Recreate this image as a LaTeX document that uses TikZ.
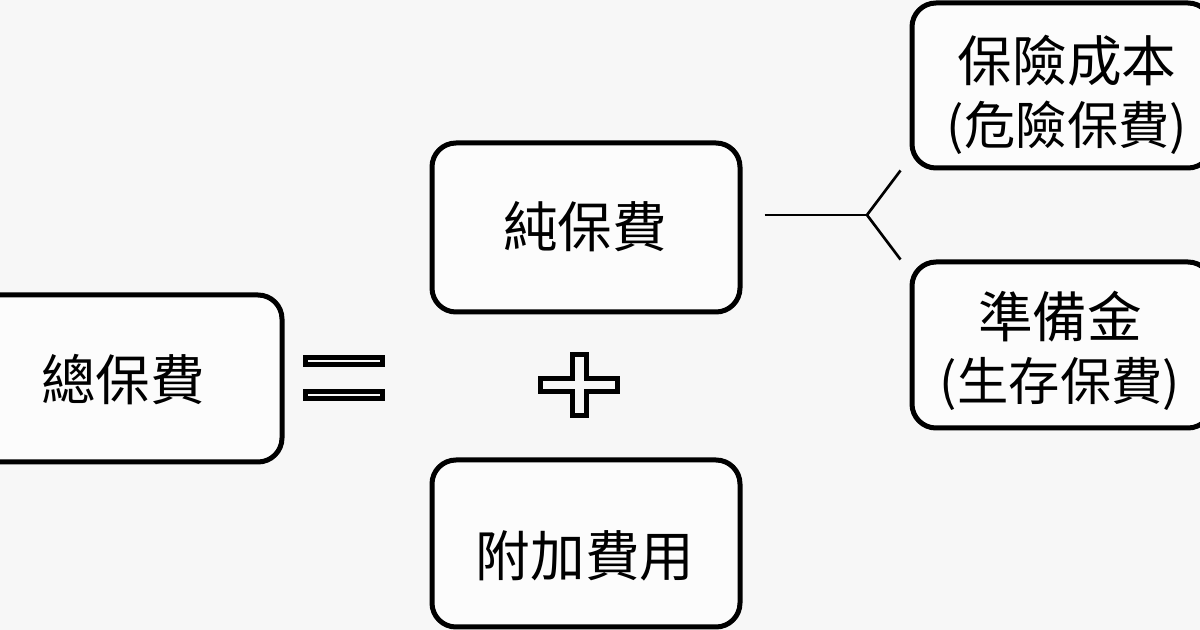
\documentclass[tikz,border=0pt]{standalone}
\usepackage{fontspec}
\newfontfamily\cjk{Noto Sans CJK TC}
\usetikzlibrary{calc}
\definecolor{bgc}{RGB}{247,247,247}
\newcommand{\subline}[1]{{\fontsize{38.5pt}{44pt}\selectfont #1}}
\begin{document}
\begin{tikzpicture}[x=0.75pt,y=-0.75pt,
  box/.style={draw=black,line width=3.75pt,rounded corners=18pt,fill=white!60!bgc,inner sep=0pt},
  txt/.style={font=\cjk\fontsize{41pt}{48pt}\selectfont,inner sep=0pt,align=center},
  sym/.style={draw=black,line width=3.4pt,fill=bgc},
  fork/.style={draw=black,line width=2pt}]
\fill[bgc] (0,0) rectangle (1200,630);
\useasboundingbox (0,0) rectangle (1200,630);
\clip (0,0) rectangle (1200,630);
% boxes
\node[box,minimum width=312*0.75pt,minimum height=167*0.75pt] (total) at (126,378.5) {};
\node[box,minimum width=308*0.75pt,minimum height=169*0.75pt] (pure) at (586,227.5) {};
\node[box,minimum width=308*0.75pt,minimum height=167*0.75pt] (extra) at (586,543.5) {};
\node[box,minimum width=300*0.75pt,minimum height=165*0.75pt] (cost) at (1062,85.5) {};
\node[box,minimum width=300*0.75pt,minimum height=166*0.75pt] (reserve) at (1062,345) {};
% texts
\node[txt] (totalT) at (123,380) {總保費};
\node[txt] (pureT) at (585,227) {純保費};
\node[txt] (extraT) at (585,556) {附加費用};
\node[txt] (costT) at (1067,95) {保險成本\\[-1pt]\subline{(危險保費)}};
\node[txt] (reserveT) at (1060,351) {準備金\\[-1pt]\subline{(生存保費)}};
% equals sign
\path[sym] (305.25,357.25) rectangle (382.75,364.75);
\path[sym] (305.25,391.25) rectangle (382.75,398.75);
% plus sign
\path[sym] (572.25,354.25) -- (586.75,354.25) -- (586.75,378.25) -- (617.75,378.25)
  -- (617.75,391.75) -- (586.75,391.75) -- (586.75,415.75) -- (572.25,415.75)
  -- (572.25,391.75) -- (540.25,391.75) -- (540.25,378.25) -- (572.25,378.25) -- cycle;
% fork connector
\coordinate (fs) at ($(pure.east)+(22,-12.5)$);
\coordinate (fj) at (867,215);
\draw[fork] (fs) -- (fj);
\draw[fork] (fj) -- ($(cost.south west)+(-9,0)$);
\draw[fork] (fj) -- ($(reserve.north west)+(-9,0)$);
\end{tikzpicture}
\end{document}
